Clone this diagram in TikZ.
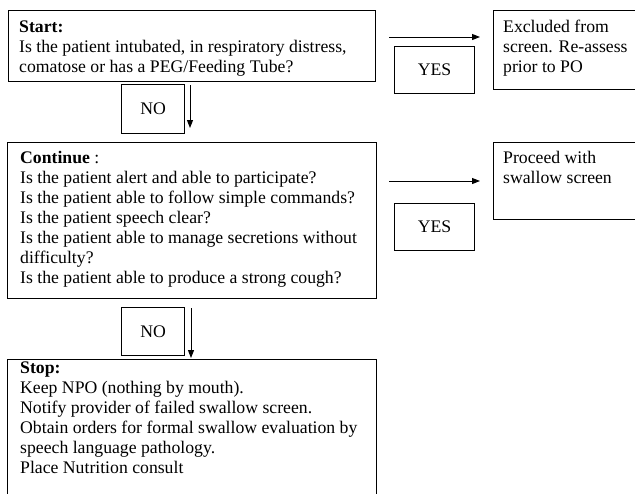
\documentclass[tikz,border=0pt]{standalone}
\usepackage{fontspec}
\setmainfont{Liberation Serif}
\usetikzlibrary{arrows.meta,calc}

\begin{document}
\begin{tikzpicture}[x=1pt,y=-1pt,
  box/.style={draw=black,line width=1.2pt,rectangle,inner sep=0pt,anchor=north west},
  tag/.style={draw=black,line width=1.2pt,rectangle,inner sep=0pt,anchor=north west,
    font=\fontsize{17.7}{20}\selectfont},
  txt/.style={anchor=base west,inner sep=0pt,font=\fontsize{17.7}{20}\selectfont},
  arr/.style={line width=1pt,-{Triangle[length=8pt,width=6pt]}}]
  \clip (0,0) rectangle (635,493);

  % main question boxes
  \node[box,minimum width=367,minimum height=71] (start) at (8,10) {};
  \node[box,minimum width=369,minimum height=156] (cont) at (7,142) {};
  \node[box,minimum width=369,minimum height=160] (stop) at (7,359) {};

  % outcome boxes on the right
  \node[box,minimum width=152,minimum height=79] (excl) at (493,10) {};
  \node[box,minimum width=152,minimum height=77] (proc) at (493,142) {};

  % decision labels
  \node[tag,minimum width=63,minimum height=49] (no1) at (121,84) {NO};
  \node[tag,minimum width=63,minimum height=48] (no2) at (121,307) {NO};
  \node[tag,minimum width=80,minimum height=47] (yes1) at (394,46) {YES};
  \node[tag,minimum width=80,minimum height=47] (yes2) at (394,203) {YES};

  % box texts
  \node[txt] (starttxt) at ($(start.north west)+(11,22)$) {\parbox[t]{360pt}{%
    \textbf{Start:}\\
    Is the patient intubated, in respiratory distress,\\
    comatose or has a PEG/Feeding Tube?}};
  \node[txt] (conttxt) at ($(cont.north west)+(13,21)$) {\parbox[t]{360pt}{%
    \textbf{Continue} :\\
    Is the patient alert and able to participate?\\
    Is the patient able to follow simple commands?\\
    Is the patient speech clear?\\
    Is the patient able to manage secretions without\\
    difficulty?\\
    Is the patient able to produce a strong cough?}};
  \node[txt] (stoptxt) at ($(stop.north west)+(13,14)$) {\parbox[t]{360pt}{%
    \textbf{Stop:}\\
    Keep NPO (nothing by mouth).\\
    Notify provider of failed swallow screen.\\
    Obtain orders for formal swallow evaluation by\\
    speech language pathology.\\
    Place Nutrition consult}};
  \node[txt] (excltxt) at ($(excl.north west)+(10,22)$) {\parbox[t]{150pt}{%
    Excluded from\\
    screen. Re-assess\\
    prior to PO}};
  \node[txt] (proctxt) at ($(proc.north west)+(10,21)$) {\parbox[t]{150pt}{%
    Proceed with\\
    swallow screen}};

  % connectors
  \draw[arr] ($(start.north east)+(13,27)$) -- ($(excl.north west)+(-13,27)$);
  \draw[arr] ($(cont.north east)+(12,39)$) -- ($(proc.north west)+(-13,39)$);
  \draw[arr] ($(start.south west)+(182,3)$) -- ($(cont.north west)+(183,-14)$);
  \draw[arr] ($(cont.south west)+(184,9)$) -- ($(stop.north west)+(184,-1)$);
\end{tikzpicture}
\end{document}
